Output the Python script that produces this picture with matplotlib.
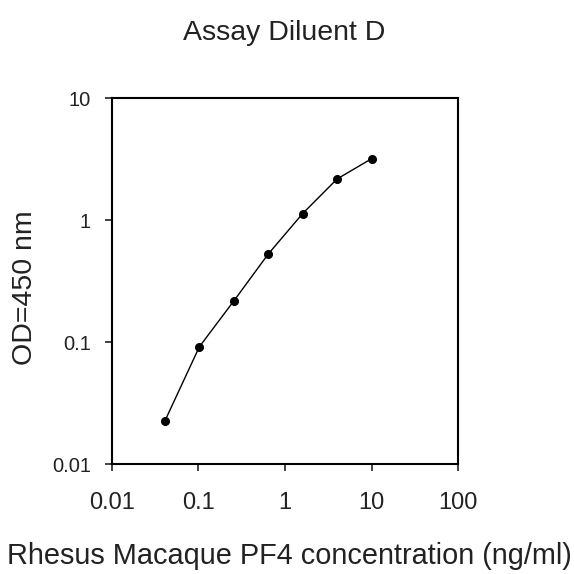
import numpy as np
import matplotlib.pyplot as plt
from matplotlib.ticker import FixedLocator, FixedFormatter, NullLocator

plt.rcParams['font.family'] = ['Liberation Sans', 'DejaVu Sans']

# PF4 concentration (ng/ml) and measured OD at 450 nm
conc = [0.041, 0.1024, 0.256, 0.64, 1.6, 4.0, 10.0]
od = [0.0226, 0.0914, 0.217, 0.526, 1.13, 2.17, 3.18]

x_ticks = [0.01, 0.1, 1, 10, 100]
x_tick_labels = ["0.01", "0.1", "1", "10", "100"]
y_ticks = [0.01, 0.1, 1, 10]
y_tick_labels = ["0.01", "0.1", "1", "10"]

fig = plt.figure(figsize=(5.74, 5.74), dpi=100)
ax = fig.add_axes([0.195, 0.1916, 0.603, 0.6376])

ax.plot(conc, od, color="black", linewidth=1, marker="o", markersize=5.5)

ax.set_xscale("log")
ax.set_yscale("log")
ax.set_xlim(0.01, 100)
ax.set_ylim(0.01, 10)

ax.xaxis.set_major_locator(FixedLocator(x_ticks))
ax.xaxis.set_major_formatter(FixedFormatter(x_tick_labels))
ax.xaxis.set_minor_locator(NullLocator())
ax.yaxis.set_major_locator(FixedLocator(y_ticks))
ax.yaxis.set_major_formatter(FixedFormatter(y_tick_labels))
ax.yaxis.set_minor_locator(NullLocator())

ax.tick_params(direction="out", length=5, width=1.2, colors="#222222")
ax.tick_params(axis="x", labelsize=17, pad=15)
ax.tick_params(axis="y", labelsize=14.5, pad=10)
for sp in ax.spines.values():
    sp.set_linewidth(1.5)

fig.text(0.495, 0.930, "Assay Diluent D", ha="center", va="baseline", fontsize=20.5, color="#222222")
fig.text(0.0436, 0.498, "OD=450 nm", ha="center", va="center", rotation=90, fontsize=20.5, color="#222222")
fig.text(0.504, 0.0174, "Rhesus Macaque PF4 concentration (ng/ml)", ha="center", va="baseline",
         fontsize=20.8, color="#222222")

fig.savefig("out.png", dpi=100)
